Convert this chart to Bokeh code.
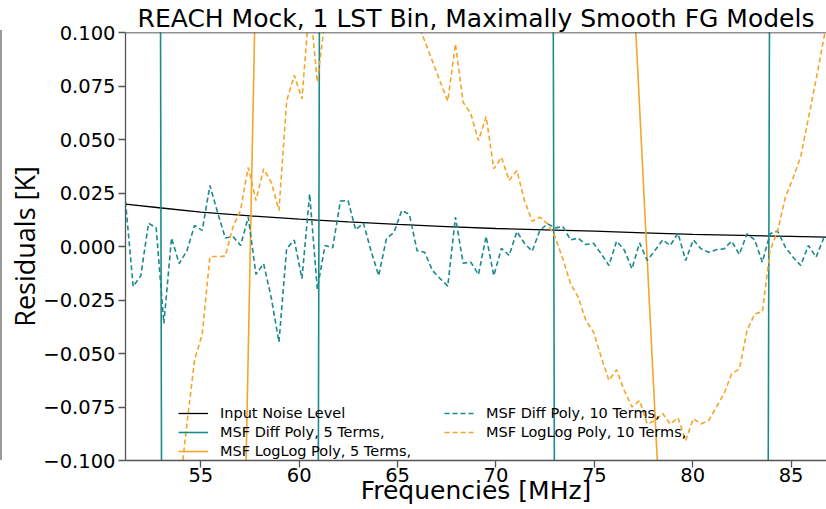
from bokeh.plotting import figure
from bokeh.layouts import row
from bokeh.models import Range1d, FixedTicker, Legend, LegendItem, Span, Div
from bokeh.embed import file_html
from bokeh.resources import INLINE

# ---------------- data ----------------
freqs = [51.17, 51.56, 51.95, 52.34, 52.73, 53.12, 53.51, 53.90, 54.29, 54.68,
         55.07, 55.46, 55.85, 56.24, 56.63, 57.02, 57.41, 57.80, 58.19, 58.58,
         58.97, 59.36, 59.75, 60.14, 60.53, 60.92, 61.31, 61.70, 62.09, 62.48,
         62.87, 63.26, 63.65, 64.04, 64.43, 64.82, 65.21, 65.60, 65.99, 66.38,
         66.77, 67.16, 67.55, 67.94, 68.33, 68.72, 69.11, 69.50, 69.89, 70.28,
         70.67, 71.06, 71.45, 71.84, 72.23, 72.62, 73.01, 73.40, 73.79, 74.18,
         74.57, 74.96, 75.35, 75.74, 76.13, 76.52, 76.91, 77.30, 77.69, 78.08,
         78.47, 78.86, 79.25, 79.64, 80.03, 80.42, 80.81, 81.20, 81.59, 81.98,
         82.37, 82.76, 83.15, 83.54, 83.93, 84.32, 84.71, 85.10, 85.49, 85.88,
         86.27, 86.66, 87.05]

noise_freqs = [51.17, 53.0, 55.0, 57.5, 60.0, 62.5, 65.0, 67.5, 70.0, 72.5,
               75.0, 77.5, 80.0, 82.5, 85.0, 87.05]
noise_level = [0.0198, 0.0180, 0.0161, 0.0143, 0.0128, 0.0115, 0.0103, 0.0093,
               0.0084, 0.0078, 0.0072, 0.0064, 0.0057, 0.0052, 0.0047, 0.0043]

diff_poly_5 = [6.0, 5.0, 3.8, 2.5, 1.0, -0.59, -2.2, -3.7, -5.0, -6.0,
               -6.8, -7.4, -7.8, -8.0, -8.0, -7.8, -7.4, -6.9, -6.3, -5.6,
               -4.8, -4.0, -3.2, -2.4, -1.5, -0.3, 1.2, 2.6, 3.9, 5.1,
               6.2, 7.2, 8.1, 8.9, 9.5, 10.0, 10.4, 10.7, 10.9, 11.0,
               11.0, 10.9, 10.7, 10.4, 10.0, 9.5, 8.9, 8.2, 7.4, 6.5,
               5.6, 4.7, 3.8, 2.9, 2.0, 1.2, -0.26, -1.7, -3.1, -4.4,
               -5.6, -6.6, -7.4, -8.0, -8.4, -8.6, -8.6, -8.4, -8.0, -7.5,
               -7.0, -6.8, -6.5, -6.1, -5.6, -5.0, -4.4, -3.8, -3.3, -2.8,
               -2.4, -2.0, -1.6, -1.1, 0.2, 1.5, 2.8, 4.1, 5.4, 6.6,
               7.8, 9.0, 10.2]

loglog_poly_5 = [-3.6, -3.2, -2.8, -2.45, -2.1, -1.8, -1.52, -1.27, -1.04, -0.84,
                 -0.71, -0.6, -0.5, -0.41, -0.32, -0.23, -0.049, 0.1325, 0.3, 0.46,
                 0.6, 0.72, 0.83, 0.93, 1.02, 1.1, 1.17, 1.23, 1.28, 1.32,
                 1.35, 1.37, 1.38, 1.38, 1.37, 1.35, 1.32, 1.28, 1.23, 1.17,
                 1.11, 1.04, 0.97, 0.9, 0.83, 0.76, 0.69, 0.63, 0.57, 0.52,
                 0.47, 0.43, 0.39, 0.36, 0.33, 0.31, 0.29, 0.27, 0.255, 0.24,
                 0.228, 0.216, 0.205, 0.192, 0.178, 0.16, 0.1367, 0.0651, -0.0064, -0.078,
                 -0.1496, -0.225, -0.31, -0.4, -0.5, -0.61, -0.73, -0.86, -1.0, -1.15,
                 -1.31, -1.48, -1.66, -1.85, -2.05, -2.26, -2.48, -2.71, -2.95, -3.2,
                 -3.46, -3.73, -4.0]

diff_poly_10 = [0.021, -0.0187, -0.0136, 0.0109, 0.0087, -0.036, 0.004, -0.008, -0.002, 0.0098,
                0.0075, 0.0285, 0.016, 0.004, 0.0047, 0.0005, 0.0137, -0.013, -0.008, -0.024,
                -0.0447, -0.001, 0.003, -0.015, 0.0246, -0.0198, 0.0005, -0.0006, 0.0212, 0.0215,
                0.0078, 0.0109, -0.002, -0.0136, 0.0036, 0.0067, 0.0168, 0.015, -0.002, -0.0027,
                -0.0112, -0.015, -0.0185, 0.0137, -0.0078, -0.0073, -0.0131, 0.0047, -0.0136, -0.0008,
                -0.0042, 0.007, 0.0015, -0.0022, 0.0075, 0.0106, 0.0087, 0.0093, 0.0031, 0.0039,
                0.0009, 0.0015, -0.0034, -0.0089, 0.0025, -0.0016, -0.0104, 0.0017, -0.0065, -0.0019,
                0.0031, 0.0005, 0.0062, -0.0065, 0.0031, -0.0011, -0.0027, -0.0015, -0.0011, 0.0025,
                -0.0037, 0.0059, 0.0031, -0.0073, 0.006, 0.0072, -0.0003, -0.005, -0.0089, 0.0005,
                -0.005, 0.004, 0.006]

loglog_poly_10 = [-0.30, -0.27, -0.24, -0.21, -0.19, -0.165, -0.14, -0.115, -0.083, -0.053,
                  -0.041, -0.0047, -0.0047, -0.0045, 0.009, 0.017, 0.037, 0.0215, 0.0363, 0.030,
                  0.0168, 0.068, 0.080, 0.069, 0.115, 0.0768, 0.106, 0.125, 0.135, 0.145,
                  0.15, 0.15, 0.145, 0.14, 0.133, 0.125, 0.118, 0.112, 0.1054, 0.096,
                  0.0866, 0.0771, 0.068, 0.0947, 0.0674, 0.062, 0.0495, 0.0607, 0.0363, 0.0417,
                  0.0308, 0.0355, 0.0215, 0.0118, 0.0137, 0.0106, 0.0044, -0.0058, -0.0174, -0.0237,
                  -0.0346, -0.040, -0.0517, -0.0626, -0.0576, -0.0673, -0.075, -0.072, -0.0829, -0.0813,
                  -0.078, -0.083, -0.080, -0.0907, -0.0805, -0.0829, -0.0813, -0.0751, -0.0688, -0.0595,
                  -0.0572, -0.0393, -0.0315, -0.0305, -0.002, 0.0075, 0.023, 0.032, 0.042, 0.060,
                  0.078, 0.097, 0.115]

x_ticks = [55, 60, 65, 70, 75, 80, 85]
y_ticks = [-0.1, -0.075, -0.05, -0.025, 0.0, 0.025, 0.05, 0.075, 0.1]
y_tick_labels = ["\u22120.100", "\u22120.075", "\u22120.050", "\u22120.025", "0.000",
                 "0.025", "0.050", "0.075", "0.100"]

labels = ["Input Noise Level", "MSF Diff Poly, 5 Terms,", "MSF LogLog Poly, 5 Terms,",
          "MSF Diff Poly, 10 Terms,", "MSF LogLog Poly, 10 Terms,"]

# ---------------- styling ----------------
TEAL = "#1a8a8a"
ORANGE = "#f5a52a"
FONT = "DejaVu Sans"

p = figure(width=824, height=509, output_backend="svg", toolbar_location=None,
           x_range=Range1d(51.17, 86.80), y_range=Range1d(-0.1, 0.1),
           min_border_left=123, min_border_right=0, min_border_top=32, min_border_bottom=49,
           title="REACH Mock, 1 LST Bin, Maximally Smooth FG Models")
p.outline_line_color = None
p.grid.visible = False
p.background_fill_color = "white"
p.border_fill_color = "white"

p.title.text_font = FONT
p.title.text_font_size = "25px"
p.title.text_font_style = "normal"
p.title.text_color = "black"
p.title.align = "center"
p.title.standoff = 0

for ax in (p.xaxis[0], p.yaxis[0]):
    ax.axis_line_color = "#555555"
    ax.axis_line_width = 1.3
    ax.major_tick_line_color = "#555555"
    ax.major_tick_line_width = 1.3
    ax.major_tick_out = 7
    ax.major_tick_in = 0
    ax.minor_tick_line_color = None
    ax.major_label_text_font = FONT
    ax.major_label_text_font_size = "19.5px"
    ax.major_label_text_color = "black"
    ax.axis_label_text_font_style = "normal"
    ax.axis_label_text_color = "black"

p.xaxis.ticker = FixedTicker(ticks=x_ticks)
p.yaxis.ticker = FixedTicker(ticks=y_ticks)
p.yaxis.major_label_overrides = dict(zip(y_ticks, y_tick_labels))
p.xaxis.major_label_standoff = 0
p.yaxis.major_label_standoff = 3

p.xaxis.axis_label = "Frequencies [MHz]"
p.xaxis.axis_label_text_font = FONT
p.xaxis.axis_label_text_font_size = "25px"
p.xaxis.axis_label_standoff = -9

p.yaxis.axis_label = "Residuals [K]"
p.yaxis.axis_label_text_font = "'Liberation Sans Narrow', 'Open Sans'"
p.yaxis.axis_label_text_font_size = "27px"
p.yaxis.axis_label_standoff = -3

# top spine
p.add_layout(Span(location=0.1, dimension="width", line_color="#222222", line_width=1.3))

r_noise = p.line(noise_freqs, noise_level, line_color="black", line_width=1.3)
r_d5 = p.line(freqs, diff_poly_5, line_color=TEAL, line_width=1.6)
r_l5 = p.line(freqs, loglog_poly_5, line_color=ORANGE, line_width=1.6)
r_d10 = p.line(freqs, diff_poly_10, line_color=TEAL, line_width=1.6, line_dash="5 3")
r_l10 = p.line(freqs, loglog_poly_10, line_color=ORANGE, line_width=1.6, line_dash="5 3")


def make_legend(items, loc):
    lg = Legend(items=items, location=loc, orientation="vertical",
                background_fill_alpha=0, border_line_alpha=0,
                padding=0, margin=0, spacing=3,
                glyph_width=30, glyph_height=16, label_height=16,
                label_standoff=12,
                label_text_font=FONT, label_text_font_size="14.5px",
                label_text_color="black")
    return lg


leg1 = make_legend([LegendItem(label=labels[0], renderers=[r_noise]),
                    LegendItem(label=labels[1], renderers=[r_d5]),
                    LegendItem(label=labels[2], renderers=[r_l5])], (53, 1))
leg2 = make_legend([LegendItem(label=labels[3], renderers=[r_d10]),
                    LegendItem(label=labels[4], renderers=[r_l10])], (319, 20))
p.add_layout(leg1, "center")
p.add_layout(leg2, "center")

# thin grey edge of the neighbouring panel at the far left
edge = Div(text="", width=2, height=430, margin=(30, 0, 0, 0),
           styles={"background-color": "#9a9a9a"})

layout = row(edge, p, spacing=0)

open("out.html", "w").write(file_html(layout, INLINE))
